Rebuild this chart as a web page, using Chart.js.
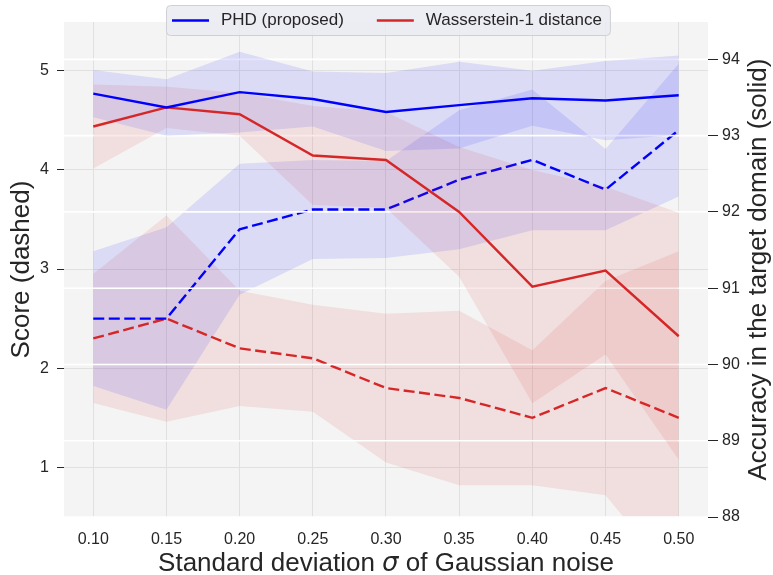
<!DOCTYPE html>
<html>
<head>
<meta charset="utf-8">
<script src="https://cdn.jsdelivr.net/npm/chart.js@4.4.1/dist/chart.umd.min.js"></script>
<style>
  html, body { margin: 0; padding: 0; background: #fff; }
</style>
</head>
<body>
<canvas id="chart" width="773" height="575"></canvas>
<script>
// noise level on the x axis
const sigma = [0.10, 0.15, 0.20, 0.25, 0.30, 0.35, 0.40, 0.45, 0.50];
const xTicks = [0.10, 0.15, 0.20, 0.25, 0.30, 0.35, 0.40, 0.45, 0.50];
const scoreTicks = [1, 2, 3, 4, 5];
const accTicks = [88, 89, 90, 91, 92, 93, 94];

// PHD (proposed)
const phdAcc = [93.55, 93.37, 93.57, 93.48, 93.31, 93.40, 93.49, 93.46, 93.53];
const phdAccStd = [0.31, 0.37, 0.53, 0.36, 0.51, 0.57, 0.36, 0.52, 0.52];
const phdScore = [2.5, 2.5, 3.4, 3.6, 3.6, 3.9, 4.1, 3.8, 4.4];
const phdScoreStd = [0.68, 0.92, 0.66, 0.50, 0.49, 0.70, 0.71, 0.41, 0.67];

// Wasserstein-1 distance
const w1Acc = [93.12, 93.37, 93.28, 92.74, 92.68, 92.00, 91.02, 91.23, 90.37];
const w1AccStd = [0.55, 0.27, 0.28, 0.65, 0.63, 0.85, 1.53, 1.10, 1.62];
const w1Score = [2.3, 2.5, 2.2, 2.1, 1.8, 1.7, 1.5, 1.8, 1.5];
const w1ScoreStd = [0.65, 1.04, 0.58, 0.54, 0.75, 0.88, 0.68, 1.08, 1.68];

const BLUE = '#0000ff';
const RED = '#d62728';
const BLUE_BAND = 'rgba(0,0,255,0.1)';
const RED_BAND = 'rgba(214,39,40,0.1)';
const TEXT = '#262626';
const FONT = '"Liberation Sans", Arial, Helvetica, sans-serif';

Chart.defaults.font.family = FONT;
Chart.defaults.color = TEXT;

const pts = (vals) => sigma.map((s, i) => ({ x: s, y: vals[i] }));
const shift = (vals, std, k) => vals.map((v, i) => v + k * std[i]);

function line(label, vals, color, axis, dashed, extra) {
    return Object.assign({
        label: label,
        data: pts(vals),
        yAxisID: axis,
        borderColor: color,
        borderWidth: 2.4,
        borderDash: dashed ? [11, 4.5] : [],
        pointRadius: 0,
        tension: 0,
        fill: false,
        order: dashed ? 2 : 0
    }, extra || {});
}

// two datasets per band: upper fills to the lower one
function band(vals, std, color, axis, order) {
    return [
        { data: pts(shift(vals, std, 1)), yAxisID: axis, borderWidth: 0, borderColor: 'transparent',
          backgroundColor: color, pointRadius: 0, tension: 0, fill: '+1', order: order },
        { data: pts(shift(vals, std, -1)), yAxisID: axis, borderWidth: 0, borderColor: 'transparent',
          pointRadius: 0, tension: 0, fill: false, order: order }
    ];
}

const datasets = [
    line('PHD (proposed)', phdAcc, BLUE, 'y2', false, { inLegend: true }),
    line('Wasserstein-1 distance', w1Acc, RED, 'y2', false, { inLegend: true }),
    line('PHD score', phdScore, BLUE, 'y', true, { gridAfter: true }),
    line('W1 score', w1Score, RED, 'y', true),
    ...band(phdAcc, phdAccStd, BLUE_BAND, 'y2', 1),
    ...band(w1Acc, w1AccStd, RED_BAND, 'y2', 1),
    ...band(phdScore, phdScoreStd, BLUE_BAND, 'y', 3),
    ...band(w1Score, w1ScoreStd, RED_BAND, 'y', 3)
];

// grey plot background
const plotBg = {
    id: 'plotBg',
    beforeDraw(chart) {
        const { ctx, chartArea: a } = chart;
        ctx.save();
        ctx.fillStyle = '#f4f4f4';
        ctx.fillRect(a.left, a.top, a.width, a.height);
        ctx.restore();
    }
};

// white grid of the right axis, above the score layer and below the accuracy layer
const accGrid = {
    id: 'accGrid',
    afterDatasetDraw(chart, args) {
        if (!chart.data.datasets[args.index].gridAfter) return;
        const s = chart.scales.y2, a = chart.chartArea, ctx = chart.ctx;
        ctx.save();
        ctx.strokeStyle = '#ffffff';
        ctx.lineWidth = 1.6;
        s.ticks.forEach(t => {
            const y = s.getPixelForValue(t.value);
            ctx.beginPath();
            ctx.moveTo(a.left, y);
            ctx.lineTo(a.right, y);
            ctx.stroke();
        });
        ctx.restore();
    }
};

// x title with an italic sigma, right title bottom-to-top, legend over the plot top
const overlay = {
    id: 'overlay',
    afterDraw(chart) {
        const ctx = chart.ctx, a = chart.chartArea;

        ctx.save();
        ctx.fillStyle = TEXT;
        ctx.textBaseline = 'middle';
        const parts = [
            ['Standard deviation ', '26px ' + FONT],
            ['σ', 'italic 26px "DejaVu Sans", sans-serif'],
            [' of Gaussian noise', '26px ' + FONT]
        ];
        let total = 0;
        parts.forEach(p => { ctx.font = p[1]; total += ctx.measureText(p[0]).width; });
        let tx = (a.left + a.right) / 2 - total / 2;
        parts.forEach(p => {
            ctx.font = p[1];
            ctx.fillText(p[0], tx, 564);
            tx += ctx.measureText(p[0]).width;
        });
        ctx.restore();

        ctx.save();
        ctx.fillStyle = TEXT;
        ctx.font = '26px ' + FONT;
        ctx.translate(759, (a.top + a.bottom) / 2);
        ctx.rotate(-Math.PI / 2);
        ctx.textAlign = 'center';
        ctx.textBaseline = 'middle';
        ctx.fillText('Accuracy in the target domain (solid)', 0, 0);
        ctx.restore();

        const items = chart.data.datasets.filter(d => d.inLegend);
        ctx.save();
        ctx.font = '17px ' + FONT;
        const sample = 37, gap = 12, itemGap = 33, padL = 6, padR = 8;
        let w = padL + padR;
        items.forEach((d, i) => {
            w += sample + gap + ctx.measureText(d.label).width + (i ? itemGap : 0);
        });
        const x0 = 166, y0 = 5, h = 30;
        ctx.beginPath();
        if (ctx.roundRect) ctx.roundRect(x0 + 0.5, y0 + 0.5, w, h, 4);
        else ctx.rect(x0 + 0.5, y0 + 0.5, w, h);
        ctx.fillStyle = 'rgba(234,234,242,0.85)';
        ctx.fill();
        ctx.strokeStyle = '#cfcfd6';
        ctx.lineWidth = 1;
        ctx.stroke();
        let x = x0 + padL;
        const cy = y0 + h / 2 + 0.5;
        items.forEach((d, i) => {
            if (i) x += itemGap;
            ctx.strokeStyle = d.borderColor;
            ctx.lineWidth = 2.6;
            ctx.beginPath();
            ctx.moveTo(x, cy);
            ctx.lineTo(x + sample, cy);
            ctx.stroke();
            x += sample + gap;
            ctx.fillStyle = TEXT;
            ctx.textBaseline = 'middle';
            ctx.fillText(d.label, x, cy);
            x += ctx.measureText(d.label).width;
        });
        ctx.restore();
    }
};

new Chart(document.getElementById('chart'), {
    type: 'line',
    data: { datasets: datasets },
    plugins: [plotBg, accGrid, overlay],
    options: {
        responsive: false,
        animation: false,
        devicePixelRatio: 1,
        layout: { padding: { top: 22, left: 0, right: 0, bottom: 0 } },
        plugins: { legend: { display: false }, tooltip: { enabled: false } },
        scales: {
            x: {
                type: 'linear', min: 0.08, max: 0.52,
                afterBuildTicks: s => { s.ticks = xTicks.map(v => ({ value: v })); },
                afterFit: s => { s.height = 58; },
                grid: { color: '#e0e0e0', drawTicks: false },
                border: { display: false },
                ticks: { padding: 13, font: { size: 16 }, callback: v => v.toFixed(2) }
            },
            y: {
                position: 'left', min: 0.5, max: 5.49,
                afterBuildTicks: s => { s.ticks = scoreTicks.map(v => ({ value: v })); },
                afterFit: s => { s.width = 64; },
                grid: { color: '#e0e0e0', tickColor: TEXT, tickLength: 7 },
                border: { display: false },
                ticks: { padding: 8, font: { size: 16 } },
                title: { display: true, text: 'Score (dashed)', font: { size: 26 },
                         padding: { top: 6, bottom: 0 } }
            },
            y2: {
                position: 'right', min: 88, max: 94.49,
                afterBuildTicks: s => { s.ticks = accTicks.map(v => ({ value: v })); },
                afterFit: s => { s.width = 65; },
                grid: { drawOnChartArea: false, tickColor: TEXT, tickLength: 10 },
                border: { display: false },
                ticks: { padding: 4, font: { size: 16 } }
            }
        }
    }
});
</script>
</body>
</html>
